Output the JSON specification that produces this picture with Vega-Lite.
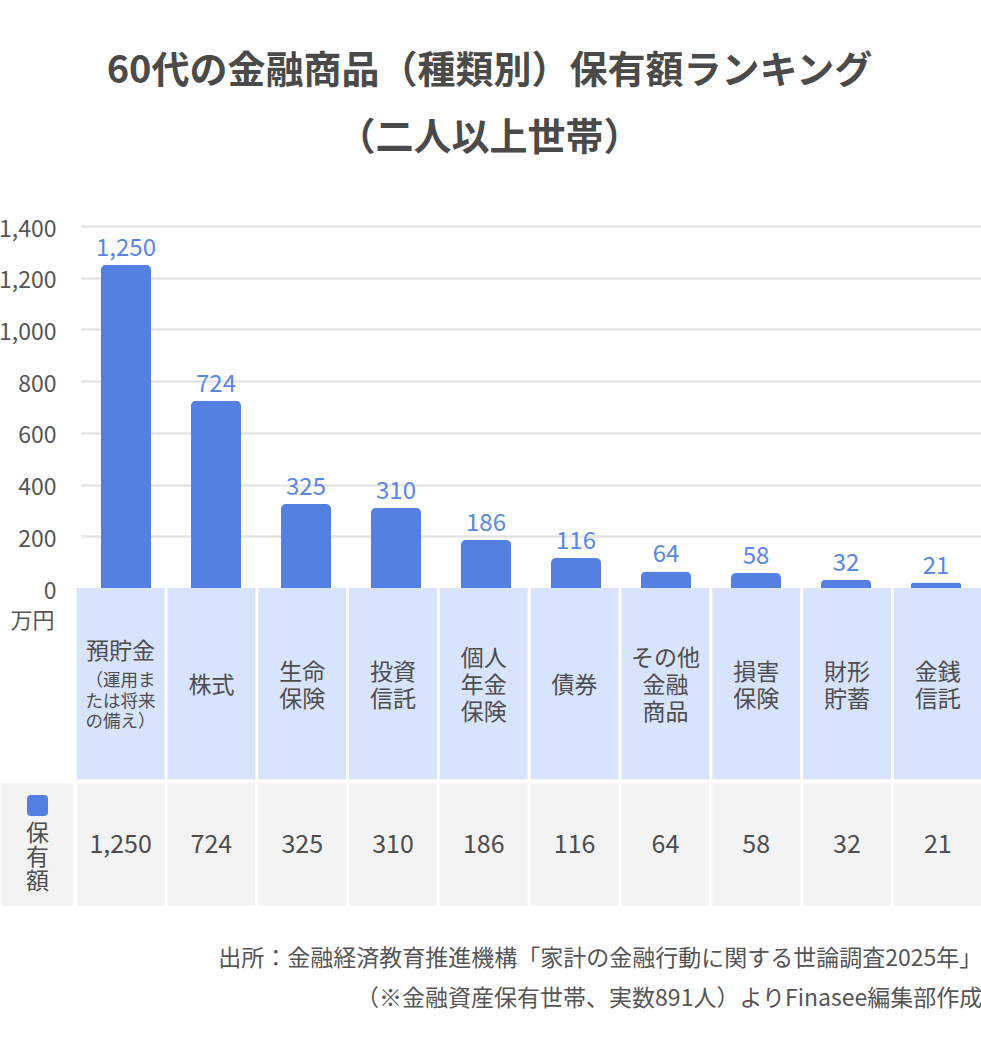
{
  "$schema": "https://vega.github.io/schema/vega-lite/v6.json",
  "width": 917,
  "height": 710,
  "autosize": {"type": "none"},
  "padding": {"left": 64, "top": 200, "right": 0, "bottom": 140},
  "background": "#ffffff",
  "config": {
    "view": {"stroke": null},
    "font": "Noto Sans CJK JP",
    "text": {"font": "Noto Sans CJK JP"}
  },
  "title": {
    "text": ["60代の金融商品（種類別）保有額ランキング", "（二人以上世帯）"],
    "font": "Noto Sans CJK JP",
    "fontSize": 38,
    "fontWeight": "bold",
    "color": "#4a4a4a",
    "lineHeight": 67,
    "anchor": "middle",
    "frame": "group",
    "dx": -33,
    "offset": 42
  },
  "datasets": {
    "holdings": [
      {"商品": "預貯金", "表示名": "預貯金", "注記": "（運用ま\nたは将来\nの備え）", "保有額": 1250},
      {"商品": "株式", "表示名": "株式", "保有額": 724},
      {"商品": "生命保険", "表示名": "生命\n保険", "保有額": 325},
      {"商品": "投資信託", "表示名": "投資\n信託", "保有額": 310},
      {"商品": "個人年金保険", "表示名": "個人\n年金\n保険", "保有額": 186},
      {"商品": "債券", "表示名": "債券", "保有額": 116},
      {"商品": "その他金融商品", "表示名": "その他\n金融\n商品", "保有額": 64},
      {"商品": "損害保険", "表示名": "損害\n保険", "保有額": 58},
      {"商品": "財形貯蓄", "表示名": "財形\n貯蓄", "保有額": 32},
      {"商品": "金銭信託", "表示名": "金銭\n信託", "保有額": 21}
    ],
    "series": [
      {"系列": "保有額", "縦書き": "保\n有\n額"}
    ]
  },
  "resolve": {"scale": {"x": "independent", "y": "independent"}},
  "layer": [
    {
      "data": {"name": "holdings"},
      "layer": [
        {
          "mark": {"type": "bar", "color": "#5480e2", "cornerRadiusTopLeft": 5, "cornerRadiusTopRight": 5},
          "encoding": {
            "x": {
              "field": "商品", "type": "nominal", "sort": null,
              "scale": {"range": [17, 917], "paddingInner": 0.444, "paddingOuter": 0.222},
              "axis": null
            },
            "y": {
              "field": "保有額", "type": "quantitative",
              "scale": {"domain": [0, 1400], "range": [388, 26], "nice": false},
              "axis": {
                "values": [0, 200, 400, 600, 800, 1000, 1200, 1400],
                "format": ",.0f",
                "domain": false,
                "ticks": false,
                "labelFontSize": 23,
                "labelColor": "#555555",
                "labelPadding": 8,
                "labelOffset": 3,
                "gridColor": "#e4e4e4",
                "gridWidth": 2.5,
                "gridOpacity": {"condition": {"test": "datum.value === 0", "value": 0}, "value": 1},
                "title": "万円",
                "titleAngle": 0,
                "titleX": -10,
                "titleY": 420,
                "titleAlign": "right",
                "titleBaseline": "middle",
                "titleFontSize": 22,
                "titleFontWeight": "normal",
                "titleColor": "#555555"
              }
            }
          }
        },
        {
          "mark": {"type": "text", "color": "#5a86e6", "fontSize": 24, "baseline": "alphabetic", "dy": -9},
          "encoding": {
            "x": {"field": "商品", "type": "nominal", "sort": null},
            "y": {"field": "保有額", "type": "quantitative"},
            "text": {"field": "保有額", "type": "quantitative", "format": ","}
          }
        }
      ]
    },
    {
      "data": {"name": "holdings"},
      "layer": [
        {
          "mark": {"type": "rect", "color": "#d8e3fd"},
          "encoding": {
            "x": {
              "field": "商品", "type": "nominal", "sort": null,
              "scale": {"range": [12.7, 917.7], "paddingInner": 0.033, "paddingOuter": 0},
              "axis": {
                "orient": "bottom",
                "domain": false,
                "ticks": false,
                "labels": false,
                "title": [
                  "出所：金融経済教育推進機構「家計の金融行動に関する世論調査2025年」",
                  "（※金融資産保有世帯、実数891人）よりFinasee編集部作成"
                ],
                "titleAnchor": "end",
                "titleAlign": "right",
                "titleFontSize": 23,
                "titleFontWeight": "normal",
                "titleColor": "#555555",
                "titleLineHeight": 40,
                "titlePadding": 37
              }
            },
            "y": {
              "datum": "区分", "type": "nominal",
              "scale": {"range": [388, 579.3], "paddingInner": 0, "paddingOuter": 0},
              "axis": null
            }
          }
        },
        {
          "transform": [{"filter": "!isValid(datum['注記']) && length(split(datum['表示名'], '\\n')) == 1"}],
          "mark": {"type": "text", "fontSize": 23, "color": "#4d4d4d", "lineBreak": "\n", "lineHeight": 27, "baseline": "middle", "dy": 2.5},
          "encoding": {
            "x": {"field": "商品", "type": "nominal", "sort": null},
            "y": {"datum": "区分", "type": "nominal"},
            "text": {"field": "表示名", "type": "nominal"}
          }
        },
        {
          "transform": [{"filter": "length(split(datum['表示名'], '\\n')) == 2"}],
          "mark": {"type": "text", "fontSize": 23, "color": "#4d4d4d", "lineBreak": "\n", "lineHeight": 27, "baseline": "middle", "dy": -11},
          "encoding": {
            "x": {"field": "商品", "type": "nominal", "sort": null},
            "y": {"datum": "区分", "type": "nominal"},
            "text": {"field": "表示名", "type": "nominal"}
          }
        },
        {
          "transform": [{"filter": "length(split(datum['表示名'], '\\n')) == 3"}],
          "mark": {"type": "text", "fontSize": 23, "color": "#4d4d4d", "lineBreak": "\n", "lineHeight": 27, "baseline": "middle", "dy": -24.5},
          "encoding": {
            "x": {"field": "商品", "type": "nominal", "sort": null},
            "y": {"datum": "区分", "type": "nominal"},
            "text": {"field": "表示名", "type": "nominal"}
          }
        },
        {
          "transform": [{"filter": "isValid(datum['注記'])"}],
          "mark": {"type": "text", "fontSize": 23, "color": "#4d4d4d", "baseline": "middle", "dy": -31.5},
          "encoding": {
            "x": {"field": "商品", "type": "nominal", "sort": null},
            "y": {"datum": "区分", "type": "nominal"},
            "text": {"field": "表示名", "type": "nominal"}
          }
        },
        {
          "transform": [{"filter": "isValid(datum['注記'])"}],
          "mark": {"type": "text", "fontSize": 17.5, "color": "#4d4d4d", "lineBreak": "\n", "lineHeight": 20.5, "baseline": "middle", "dy": -2.5},
          "encoding": {
            "x": {"field": "商品", "type": "nominal", "sort": null},
            "y": {"datum": "区分", "type": "nominal"},
            "text": {"field": "注記", "type": "nominal"}
          }
        }
      ]
    },
    {
      "data": {"name": "holdings"},
      "layer": [
        {
          "mark": {"type": "rect", "color": "#f3f3f3"},
          "encoding": {
            "x": {
              "field": "商品", "type": "nominal", "sort": null,
              "scale": {"range": [12.7, 917.7], "paddingInner": 0.033, "paddingOuter": 0},
              "axis": null
            },
            "y": {
              "datum": "保有額", "type": "nominal",
              "scale": {"range": [583.3, 705.7], "paddingInner": 0, "paddingOuter": 0},
              "axis": null
            }
          }
        },
        {
          "mark": {"type": "text", "fontSize": 25, "color": "#4d4d4d", "baseline": "middle"},
          "encoding": {
            "x": {"field": "商品", "type": "nominal", "sort": null},
            "y": {"datum": "保有額", "type": "nominal"},
            "text": {"field": "保有額", "type": "quantitative", "format": ","}
          }
        }
      ]
    },
    {
      "data": {"name": "series"},
      "layer": [
        {
          "mark": {"type": "rect", "color": "#f3f3f3"},
          "encoding": {
            "x": {
              "field": "系列", "type": "nominal",
              "scale": {"range": [-62.3, 9.3], "paddingInner": 0, "paddingOuter": 0},
              "axis": null
            },
            "y": {
              "field": "系列", "type": "nominal",
              "scale": {"range": [583.3, 705.7], "paddingInner": 0, "paddingOuter": 0},
              "axis": null
            }
          }
        },
        {
          "mark": {
            "type": "point",
            "shape": "M-0.62,-1H0.62Q1,-1 1,-0.62V0.62Q1,1 0.62,1H-0.62Q-1,1 -1,0.62V-0.62Q-1,-1 -0.62,-1Z",
            "filled": true,
            "opacity": 1,
            "color": "#5480e2",
            "size": 441,
            "yOffset": -39
          },
          "encoding": {
            "x": {"field": "系列", "type": "nominal"},
            "y": {"field": "系列", "type": "nominal"}
          }
        },
        {
          "mark": {"type": "text", "fontSize": 23, "color": "#4d4d4d", "lineBreak": "\n", "lineHeight": 24, "baseline": "middle", "dy": -10.5},
          "encoding": {
            "x": {"field": "系列", "type": "nominal"},
            "y": {"field": "系列", "type": "nominal"},
            "text": {"field": "縦書き", "type": "nominal"}
          }
        }
      ]
    }
  ]
}
